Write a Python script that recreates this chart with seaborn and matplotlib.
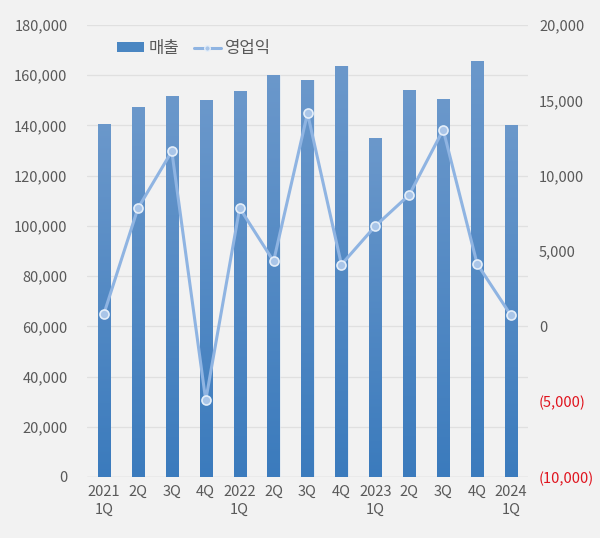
import numpy as np
import pandas as pd
import seaborn as sns
import matplotlib.pyplot as plt
from matplotlib.colors import LinearSegmentedColormap
from matplotlib.ticker import FuncFormatter, MultipleLocator
from matplotlib.lines import Line2D
from matplotlib.patches import Patch

# quarter labels
quarters = ['2021\n1Q', '2Q', '3Q', '4Q', '2022\n1Q', '2Q', '3Q', '4Q',
            '2023\n1Q', '2Q', '3Q', '4Q', '2024\n1Q']
# 매출 (left axis)
sales = [140600, 147300, 151700, 150100, 153700, 160100, 158100,
         163700, 135000, 154300, 150400, 165700, 140200]
# 영업익 (right axis)
op_profit = [840, 7830, 11620, -4910, 7850, 4320, 14140,
             4100, 6660, 8730, 13050, 4150, 720]

df = pd.DataFrame({'q': range(len(quarters)), 'sales': sales, 'op': op_profit})

sns.set_theme(style='white')
plt.rcParams['font.family'] = ['Noto Sans CJK KR', 'DejaVu Sans']

bg = '#f2f2f2'
txt = '#595959'

fig = plt.figure(figsize=(6, 5.38), dpi=100, facecolor=bg)
ax = fig.add_axes([0.145, 0.1134, 0.735, 0.8401])
ax.set_facecolor(bg)

# bars
sns.barplot(data=df, x='q', y='sales', color='#4a86c2', width=0.36,
            ax=ax, zorder=2, saturation=1)

# gradient fill for each bar
cmap = LinearSegmentedColormap.from_list('g', ['#3b7bbd', '#6b98cb'])
grad = np.linspace(0, 1, 256).reshape(-1, 1)
for p in ax.patches:
    x0, y0 = p.get_x(), p.get_y()
    w, h = p.get_width(), p.get_height()
    p.set_facecolor('none')
    p.set_edgecolor('#d6e2f0')
    p.set_linewidth(0.4)
    im = ax.imshow(grad, cmap=cmap, origin='lower', aspect='auto',
                   extent=(x0, x0 + w, y0, y0 + h), zorder=2)
    im.set_clip_path(p)
ax.set_xlim(-0.5, len(quarters) - 0.5)
ax.set_ylim(0, 180000)

ax.yaxis.set_major_locator(MultipleLocator(20000))
ax.yaxis.set_major_formatter(FuncFormatter(lambda v, pos: f'{int(v):,}'))
ax.grid(axis='y', color='#e0e0e0', linewidth=0.9, zorder=0)
ax.set_axisbelow(True)
ax.set_xticks(range(len(quarters)))
ax.set_xticklabels(quarters, linespacing=1.35)
ax.tick_params(axis='both', length=0, colors=txt, labelsize=10.5)
ax.tick_params(axis='y', pad=14)
ax.tick_params(axis='x', pad=6)
ax.set_xlabel('')
ax.set_ylabel('')
for s in ax.spines.values():
    s.set_visible(False)
ax.axhline(0, color='#d9d9d9', linewidth=1, zorder=1)

# line on secondary axis
ax2 = ax.twinx()
line_color = '#8fb4e2'
sns.lineplot(data=df, x='q', y='op', ax=ax2, color=line_color, linewidth=2.2,
             marker='o', markersize=6.5, markerfacecolor='#a9c5e8',
             markeredgecolor='#e4eef9', markeredgewidth=1.2, zorder=3)
ax2.set_ylim(-10000, 20000)
ax2.set_xlim(-0.5, len(quarters) - 0.5)
ax2.yaxis.set_major_locator(MultipleLocator(5000))


def fmt_right(v, pos):
    v = int(round(v))
    if v < 0:
        return f'({-v:,})'
    return f'{v:,}'


ax2.yaxis.set_major_formatter(FuncFormatter(fmt_right))
ax2.tick_params(axis='y', length=0, colors=txt, labelsize=10.5, pad=8)
ax2.set_ylabel('')
ax2.set_xlabel('')
for s in ax2.spines.values():
    s.set_visible(False)
fig.canvas.draw()
for lab in ax2.get_yticklabels():
    if lab.get_text().startswith('('):
        lab.set_color('#e0141e')

# legend
handles = [Patch(facecolor='#4a86c2', edgecolor='none'),
           Line2D([0], [0], color=line_color, linewidth=2.2, marker='o',
                  markersize=4, markerfacecolor='#a9c5e8',
                  markeredgecolor='#e4eef9')]
leg = ax.legend(handles, ['매출', '영업익'], loc='upper left',
                bbox_to_anchor=(0.035, 1.0), ncol=2, frameon=False,
                fontsize=12, handlelength=1.6, handleheight=0.55,
                columnspacing=0.9, handletextpad=0.25)
for t in leg.get_texts():
    t.set_color(txt)

fig.savefig('out.png', dpi=100, facecolor=bg)
